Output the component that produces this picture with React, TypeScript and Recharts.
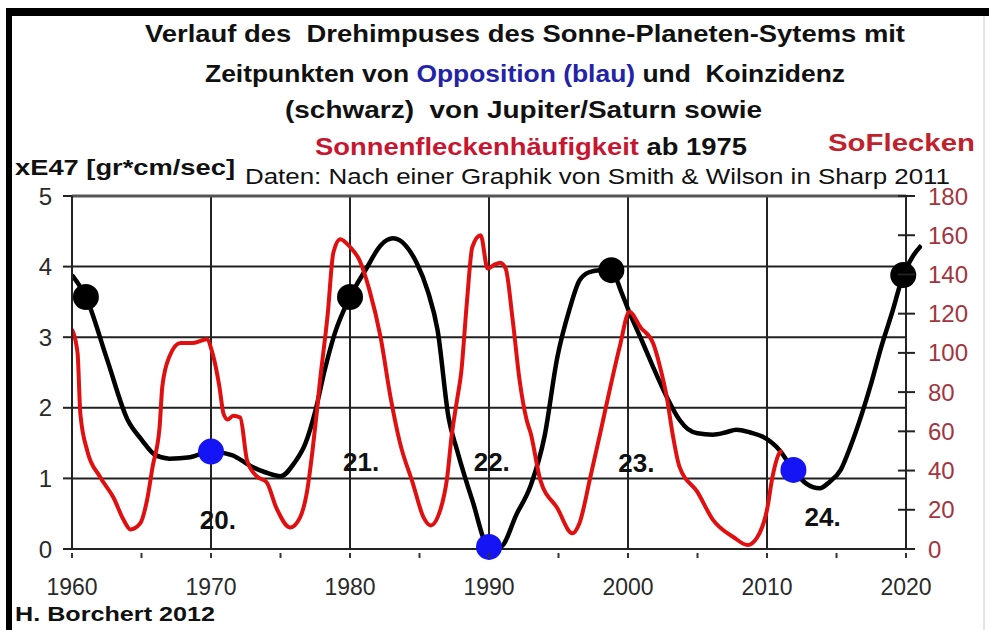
import React from "react";
import {
  ComposedChart,
  Line,
  Scatter,
  XAxis,
  YAxis,
  ReferenceLine,
  ReferenceDot,
} from "recharts";

// Drehimpuls (xE47 gr*cm/sec), black curve
const momentumYears = [
  1960, 1961, 1962.5, 1964, 1965, 1966, 1967, 1968.5, 1970, 1971.5, 1973, 1974,
  1975, 1976, 1976.8, 1977.5, 1978.2, 1978.9, 1980, 1981.2, 1982.2, 1983.1,
  1984, 1984.8, 1985.6, 1986.3, 1987.1, 1987.7, 1988.8, 1990, 1990.8, 1992,
  1993, 1994, 1994.9, 1995.8, 1996.5, 1997.2, 1998, 1998.8, 1999.5, 2000.1,
  2001, 2001.8, 2002.8, 2003.7, 2004.3, 2005, 2006.1, 2007, 2007.8, 2008.8,
  2009.7, 2010.9, 2011.9, 2012.8, 2013.8, 2014.5, 2015.3, 2016, 2016.8, 2017.5,
  2018.2, 2019, 2019.8, 2020.5, 2021.1,
];
const momentumValues = [
  3.88, 3.57, 2.7, 1.83, 1.55, 1.33, 1.28, 1.3, 1.38, 1.33, 1.16, 1.08, 1.03,
  1.22, 1.5, 1.95, 2.55, 3.05, 3.57, 3.98, 4.3, 4.4, 4.3, 4.05, 3.65, 3.1, 1.85,
  1.4, 0.69, 0.03, 0.03, 0.5, 0.9, 1.6, 2.7, 3.4, 3.8, 3.92, 3.95, 3.95, 3.65,
  3.35, 2.95, 2.58, 2.15, 1.83, 1.7, 1.64, 1.62, 1.65, 1.69, 1.65, 1.59, 1.4,
  1.12, 0.93, 0.86, 0.95, 1.12, 1.45, 1.9, 2.35, 2.85, 3.35, 3.88, 4.15, 4.3,
];

// Sonnenflecken, red curve (right axis)
const sunspotYears = [
  1960, 1960.4, 1960.6, 1961.1, 1962, 1963, 1963.7, 1964.2, 1964.9, 1965.4,
  1965.8, 1966.3, 1966.5, 1967, 1967.8, 1968.7, 1969.7, 1970.1, 1970.6, 1970.9,
  1971.2, 1971.6, 1972.1, 1972.6, 1973.3, 1974, 1974.7, 1975.7, 1976.4, 1976.9,
  1977.3, 1977.6, 1977.8, 1978.4, 1978.8, 1979.3, 1980, 1980.7, 1981.4, 1982.2,
  1982.9, 1983.6, 1984.5, 1985.3, 1985.8, 1986.5, 1987, 1987.3, 1987.7, 1988,
  1988.4, 1988.8, 1989.4, 1989.9, 1990.4, 1990.8, 1991.2, 1991.7, 1992.2,
  1992.7, 1993, 1993.7, 1994.9, 1996, 1996.5, 1997.3, 1998, 1998.4, 1999.4,
  2000.1, 2000.9, 2001.8, 2002.3, 2002.8, 2003.2, 2003.7, 2005, 2006.1, 2007.6,
  2008.6, 2009.3, 2010, 2010.4, 2010.9, 2011.1,
];
const sunspotValues = [
  112, 100, 69, 50, 37, 26, 15, 10, 13, 25, 42, 62, 83, 98, 105, 105, 107, 100,
  83, 69, 66, 68, 67, 45, 37, 34, 21, 11, 16, 29, 50, 69, 83, 120, 151, 158, 154,
  147, 132, 108, 78, 54, 34, 16, 12, 20, 37, 57, 76, 90, 125, 154, 160, 143, 145,
  146, 143, 117, 86, 66, 59, 35, 21, 8, 13, 37, 59, 72, 103, 121, 113, 105, 93,
  77, 59, 42, 29, 15, 6, 2, 6, 20, 37, 49, 50,
];

// Koinzidenz (schwarz) und Opposition (blau) Jupiter/Saturn
const coincidenceYears = [1961, 1980, 1998.8, 2019.8];
const coincidenceValues = [3.57, 3.57, 3.95, 3.88];
const oppositionYears = [1970, 1990, 2011.9];
const oppositionValues = [1.38, 0.03, 1.12];

// Sonnenzyklen
const cycleNames = ["20.", "21.", "22.", "23.", "24."];
const cycleYears = [1970.5, 1980.8, 1990.2, 2000.6, 2014];
const cycleValues = [0.42, 1.23, 1.23, 1.22, 0.45];

const yearTicks = [
  1960, 1965, 1970, 1975, 1980, 1985, 1990, 1995, 2000, 2005, 2010, 2015, 2020,
];
const gridYears = [1970, 1980, 1990, 2000, 2010];
const momentumTicks = [0, 1, 2, 3, 4, 5];
const sunspotTicks = [0, 20, 40, 60, 80, 100, 120, 140, 160, 180];

const momentum = momentumYears.map((year, i) => ({ year, m: momentumValues[i] }));
const sunspots = sunspotYears.map((year, i) => ({ year, s: sunspotValues[i] }));
const coincidence = coincidenceYears.map((year, i) => ({ year, v: coincidenceValues[i] }));
const opposition = oppositionYears.map((year, i) => ({ year, v: oppositionValues[i] }));

const FONT = "'Liberation Sans', Arial, Helvetica, sans-serif";
const GRID = "#222";

function YearTick({ x, y, payload }: any) {
  const year = payload.value;
  return (
    <g>
      <line x1={x} x2={x} y1={y + 4} y2={y + 9} stroke="#333" strokeWidth={2} />
      {year % 10 === 0 && (
        <text x={x} y={y + 46} textAnchor="middle" fontSize={23} fill="#2a2a2a" fontFamily={FONT}>
          {year}
        </text>
      )}
    </g>
  );
}

function MomentumTick({ x, y, payload }: any) {
  return (
    <g>
      <line x1={x - 9} x2={x} y1={y} y2={y} stroke={GRID} strokeWidth={2} />
      <text x={x - 20} y={y + 8.5} textAnchor="end" fontSize={24} fill="#2a2a2a" fontFamily={FONT}>
        {payload.value}
      </text>
    </g>
  );
}

// right axis sits at 2020, 16px left of the plot edge (line overshoots to 2021)
function SunspotTick({ x, y, payload }: any) {
  return (
    <g>
      <line x1={x - 24} x2={x - 7} y1={y} y2={y} stroke={GRID} strokeWidth={2} />
      <text x={x + 6} y={y + 8.5} textAnchor="start" fontSize={24} fill="#a3353f" fontFamily={FONT}>
        {payload.value}
      </text>
    </g>
  );
}

function Dot({ cx, cy, fill }: any) {
  return <circle cx={cx} cy={cy} r={13} fill={fill} />;
}

function Titles() {
  const title = { fontFamily: FONT, fontWeight: 700, fontSize: 24, fill: "#111" };
  return (
    <svg width={989} height={630} style={{ position: "absolute", left: 0, top: 0 }}>
      <rect x={6} y={8} width={983} height={8} fill="#000" />
      <rect x={6} y={8} width={6} height={622} fill="#000" />
      <line x1={984} x2={984} y1={16} y2={630} stroke="#e4e4e4" strokeWidth={2} />
      <text x={145} y={42} textLength={760} lengthAdjust="spacingAndGlyphs" xmlSpace="preserve" {...title}>
        Verlauf des  Drehimpuses des Sonne-Planeten-Sytems mit
      </text>
      <text x={205} y={82} textLength={640} lengthAdjust="spacingAndGlyphs" xmlSpace="preserve" {...title}>
        Zeitpunkten von <tspan fill="#2323a8">Opposition (blau)</tspan> und  Koinzidenz
      </text>
      <text x={285} y={118} textLength={477} lengthAdjust="spacingAndGlyphs" xmlSpace="preserve" {...title}>
        (schwarz)  von Jupiter/Saturn sowie
      </text>
      <text x={315} y={155} textLength={432} lengthAdjust="spacingAndGlyphs" {...title}>
        <tspan fill="#c81530">Sonnenfleckenhäufigkeit</tspan> ab 1975
      </text>
      <text x={828} y={151} textLength={147} lengthAdjust="spacingAndGlyphs" {...title} fill="#c0222c">
        SoFlecken
      </text>
      <text x={15} y={175} textLength={220} lengthAdjust="spacingAndGlyphs" fontFamily={FONT} fontWeight={700} fontSize={22} fill="#111">
        xE47 [gr*cm/sec]
      </text>
      <text x={245} y={184} textLength={705} lengthAdjust="spacingAndGlyphs" fontFamily={FONT} fontSize={22} fill="#111">
        Daten: Nach einer Graphik von Smith &amp; Wilson in Sharp 2011
      </text>
      <text x={15} y={621} textLength={200} lengthAdjust="spacingAndGlyphs" fontFamily={FONT} fontWeight={700} fontSize={21} fill="#111">
        H. Borchert 2012
      </text>
    </svg>
  );
}

export default function App() {
  return (
    <div style={{ position: "absolute", left: 0, top: 0, width: 989, height: 630, background: "#fff", overflow: "hidden" }}>
      <Titles />
      <div style={{ position: "absolute", left: 0, top: 0 }}>
        <ComposedChart width={989} height={630} margin={{ top: 196, right: 0, bottom: 0, left: 0 }}>
          <XAxis
            dataKey="year"
            type="number"
            domain={[1960, 2021.15]}
            allowDataOverflow
            ticks={yearTicks}
            interval={0}
            tickSize={0}
            tickMargin={0}
            tickLine={false}
            axisLine={false}
            height={81}
            tick={(p: any) => <YearTick {...p} />}
          />
          <YAxis
            yAxisId="left"
            type="number"
            domain={[0, 5]}
            ticks={momentumTicks}
            interval={0}
            width={72}
            tickSize={0}
            tickMargin={0}
            tickLine={false}
            axisLine={{ stroke: GRID, strokeWidth: 2 }}
            tick={(p: any) => <MomentumTick {...p} />}
          />
          <YAxis
            yAxisId="right"
            orientation="right"
            type="number"
            domain={[0, 180]}
            ticks={sunspotTicks}
            interval={0}
            width={67}
            tickSize={0}
            tickMargin={0}
            tickLine={false}
            axisLine={false}
            tick={(p: any) => <SunspotTick {...p} />}
          />
          {gridYears.map((yr) => (
            <ReferenceLine key={yr} x={yr} yAxisId="left" stroke={GRID} strokeWidth={2} />
          ))}
          <ReferenceLine x={2020} yAxisId="left" stroke={GRID} strokeWidth={2} />
          {momentumTicks.map((v) => (
            <ReferenceLine
              key={"h" + v}
              yAxisId="left"
              segment={[
                { x: 1960, y: v },
                { x: 2020, y: v },
              ]}
              stroke={v === 5 ? "#555" : GRID}
              strokeWidth={v === 5 ? 3 : 2}
            />
          ))}
          <Line
            data={momentum}
            dataKey="m"
            yAxisId="left"
            type="monotone"
            stroke="#000"
            strokeWidth={4.5}
            dot={false}
            isAnimationActive={false}
          />
          <Line
            data={sunspots}
            dataKey="s"
            yAxisId="right"
            type="monotone"
            stroke="#e01010"
            strokeWidth={4}
            dot={false}
            isAnimationActive={false}
          />
          <Scatter
            data={coincidence}
            dataKey="v"
            yAxisId="left"
            fill="#000"
            shape={(p: any) => <Dot {...p} fill="#000" />}
            isAnimationActive={false}
          />
          <Scatter
            data={opposition}
            dataKey="v"
            yAxisId="left"
            fill="#1414f5"
            shape={(p: any) => <Dot {...p} fill="#1414f5" />}
            isAnimationActive={false}
          />
          {cycleNames.map((name, i) => (
            <ReferenceDot
              key={name}
              x={cycleYears[i]}
              y={cycleValues[i]}
              yAxisId="left"
              r={0}
              stroke="none"
              label={{
                value: name,
                position: "center",
                fill: "#111",
                fontSize: 26,
                fontWeight: 700,
                fontFamily: FONT,
              }}
            />
          ))}
        </ComposedChart>
      </div>
    </div>
  );
}
